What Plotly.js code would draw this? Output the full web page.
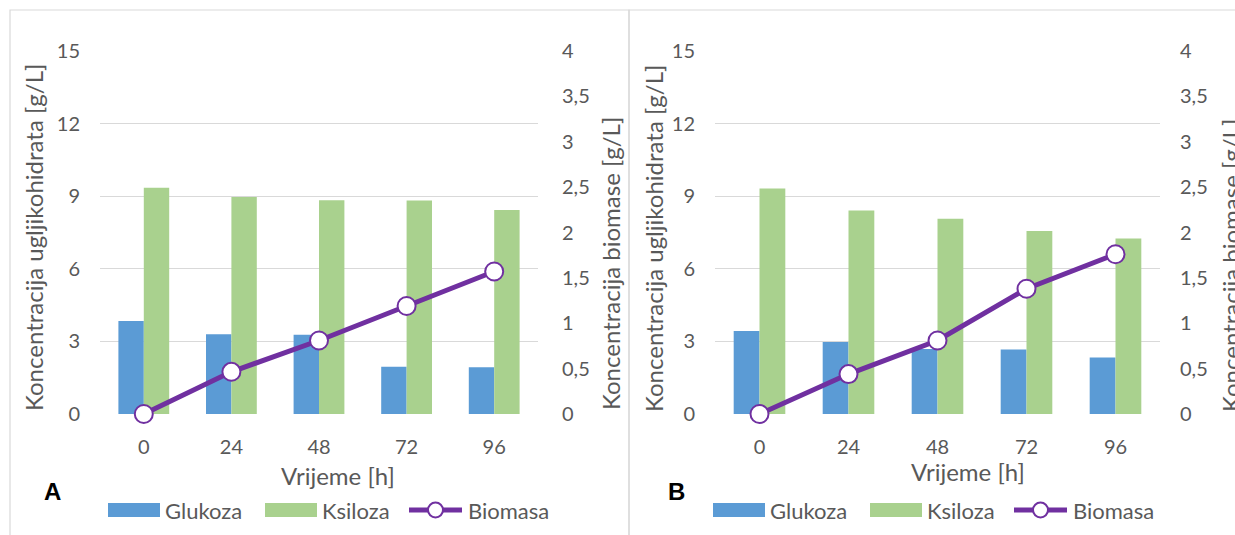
<!DOCTYPE html>
<html>
<head>
<meta charset="utf-8">
<script src="https://cdn.plot.ly/plotly-3.0.1.min.js"></script>
<style>html,body{margin:0;padding:0;background:#fff;}#chart{width:1235px;height:535px;}</style>
</head>
<body>
<div id="chart"></div>
<script>
// ---- data ----
const hours = ['0', '24', '48', '72', '96'];
const glukozaA = [3.84, 3.30, 3.27, 1.95, 1.93];
const ksilozaA = [9.35, 8.97, 8.83, 8.82, 8.43];
const biomasaA = [0, 0.465, 0.81, 1.19, 1.57];
const glukozaB = [3.43, 2.98, 2.69, 2.67, 2.33];
const ksilozaB = [9.32, 8.41, 8.07, 7.56, 7.25];
const biomasaB = [0, 0.44, 0.81, 1.38, 1.76];
const seriesNames = ['Glukoza', 'Ksiloza', 'Biomasa'];
const xTitle = 'Vrijeme [h]';
const yLeftTitle = 'Koncentracija ugljikohidrata [g/L]';
const yRightTitle = 'Koncentracija biomase [g/L]';
const panelLabels = ['A', 'B'];

// ---- styling ----
const W = 1235, H = 535;
const px = x => x / W;
const py = y => 1 - y / H;
const TXT = '#595959';
const GRID = '#d9d9d9';
const BLUE = '#5B9BD5', GREEN = '#A9D18E', PURPLE = '#7030A0';
const FONT = 'Lato, "Open Sans", sans-serif';

function panelTraces(gl, ks, bio, xa, ya, ya2) {
  return [
    {type: 'bar', name: seriesNames[0], x: hours, y: gl, xaxis: xa, yaxis: ya,
     marker: {color: BLUE}, hoverinfo: 'skip'},
    {type: 'bar', name: seriesNames[1], x: hours, y: ks, xaxis: xa, yaxis: ya,
     marker: {color: GREEN}, hoverinfo: 'skip'},
    {type: 'scatter', mode: 'lines+markers', name: seriesNames[2], x: hours, y: bio,
     xaxis: xa, yaxis: ya2, cliponaxis: false, hoverinfo: 'skip',
     line: {color: PURPLE, width: 5},
     marker: {symbol: 'circle', size: 18, color: '#ffffff', line: {color: PURPLE, width: 2}}}
  ];
}

const data = [].concat(
  panelTraces(glukozaA, ksilozaA, biomasaA, 'x', 'y', 'y2'),
  panelTraces(glukozaB, ksilozaB, biomasaB, 'x2', 'y3', 'y4')
);

const yDom = [py(414), py(51)];
const TICK = {size: 20, color: TXT};
const xAxisBase = {type: 'category', range: [-0.5, 4.5], showgrid: false, zeroline: false,
  showline: false, ticks: '', tickfont: TICK, ticklabelstandoff: 19, fixedrange: true};
const yLeftBase = {range: [0, 15], tick0: 0, dtick: 3, domain: yDom, showgrid: true, gridcolor: GRID,
  gridwidth: 1.3, zeroline: false, showline: false, ticks: '', tickfont: TICK,
  ticklabelstandoff: 19, fixedrange: true};
const yRightBase = {range: [0, 4], tick0: 0, dtick: 0.5, side: 'right', showgrid: false,
  zeroline: false, showline: false, ticks: '', tickfont: TICK, fixedrange: true};

function ann(text, x, y, opts) {
  return Object.assign({text: text, x: px(x), y: py(y), xref: 'paper', yref: 'paper',
    showarrow: false, xanchor: 'center', yanchor: 'middle',
    font: {size: 24, color: TXT, family: FONT}}, opts || {});
}

// legend (drawn as swatches + labels, one per panel)
function legendItems(x0) {
  // x0 = left edge of the first swatch, in page pixels
  const yc = 510;
  const shapes = [
    {type: 'rect', xref: 'paper', yref: 'paper', x0: px(x0), x1: px(x0 + 52), y0: py(yc + 7), y1: py(yc - 7),
     fillcolor: BLUE, line: {width: 0}},
    {type: 'rect', xref: 'paper', yref: 'paper', x0: px(x0 + 157), x1: px(x0 + 209), y0: py(yc + 7), y1: py(yc - 7),
     fillcolor: GREEN, line: {width: 0}},
    {type: 'line', xref: 'paper', yref: 'paper', x0: px(x0 + 301), x1: px(x0 + 354), y0: py(yc), y1: py(yc),
     line: {color: PURPLE, width: 5}},
    {type: 'circle', xref: 'paper', yref: 'paper', x0: px(x0 + 320), x1: px(x0 + 335), y0: py(yc + 7.5), y1: py(yc - 7.5),
     fillcolor: '#ffffff', line: {color: PURPLE, width: 2}}
  ];
  const lf = {size: 22, color: TXT, family: FONT};
  const anns = [
    ann(seriesNames[0], x0 + 55, yc, {xanchor: 'left', font: lf}),
    ann(seriesNames[1], x0 + 212, yc, {xanchor: 'left', font: lf}),
    ann(seriesNames[2], x0 + 358, yc, {xanchor: 'left', font: lf})
  ];
  return {shapes, anns};
}
const legA = legendItems(108);
const legB = legendItems(713);

const boldFont = {size: 24, color: '#000000', family: '"Liberation Sans", Arial, sans-serif', weight: 'bold'};

const layout = {
  width: W, height: H,
  margin: {l: 0, r: 0, t: 0, b: 0, pad: 0},
  paper_bgcolor: '#ffffff', plot_bgcolor: 'rgba(0,0,0,0)',
  font: {family: FONT, color: TXT},
  separators: ', ',
  barmode: 'group', bargap: 0.42, bargroupgap: 0,
  showlegend: false,
  xaxis: Object.assign({}, xAxisBase, {domain: [px(100), px(538)], anchor: 'y'}),
  yaxis: Object.assign({}, yLeftBase, {anchor: 'x'}),
  yaxis2: Object.assign({}, yRightBase, {overlaying: 'y', anchor: 'x', ticklabelstandoff: 23}),
  xaxis2: Object.assign({}, xAxisBase, {domain: [px(715), px(1160)], anchor: 'y3'}),
  yaxis3: Object.assign({}, yLeftBase, {anchor: 'x2'}),
  yaxis4: Object.assign({}, yRightBase, {overlaying: 'y3', anchor: 'x2', ticklabelstandoff: 19}),
  shapes: [
    {type: 'rect', xref: 'paper', yref: 'paper', x0: px(10), x1: px(629), y0: py(10), y1: py(560),
     line: {color: GRID, width: 1.2}, fillcolor: 'rgba(0,0,0,0)', layer: 'below'},
    {type: 'rect', xref: 'paper', yref: 'paper', x0: px(629), x1: px(1260), y0: py(10), y1: py(560),
     line: {color: GRID, width: 1.2}, fillcolor: 'rgba(0,0,0,0)', layer: 'below'}
  ].concat(legA.shapes, legB.shapes),
  annotations: [
    ann(yLeftTitle, 33, 238, {textangle: -90}),
    ann(yRightTitle, 611, 264, {textangle: -90}),
    ann(xTitle, 338, 475),
    ann(panelLabels[0], 52, 491, {font: boldFont}),
    ann(yLeftTitle, 653, 239, {textangle: -90}),
    ann(yRightTitle, 1230, 266, {textangle: -90}),
    ann(xTitle, 968, 471),
    ann(panelLabels[1], 676, 491, {font: boldFont})
  ].concat(legA.anns, legB.anns)
};

Plotly.newPlot('chart', data, layout, {displayModeBar: false, staticPlot: true});
</script>
</body>
</html>
